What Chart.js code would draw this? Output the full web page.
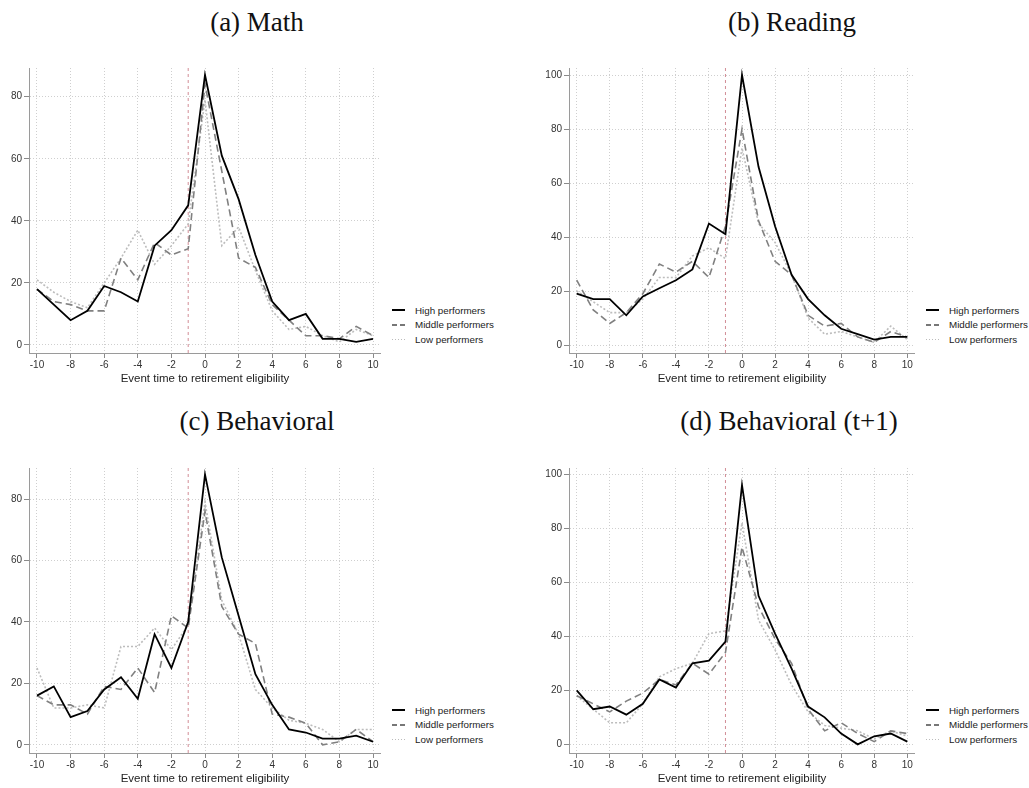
<!DOCTYPE html>
<html>
<head>
<meta charset="utf-8">
<script src="https://cdn.jsdelivr.net/npm/chart.js@4.4.0/dist/chart.umd.min.js"></script>
<style>
  body { margin: 0; background: #fff; }
  #fig { position: relative; width: 1029px; height: 788px; overflow: hidden; font-family: "Liberation Sans", Arial, sans-serif; }
  canvas { position: absolute; }
  .ptitle { position: absolute; font-family: "Liberation Serif", "DejaVu Serif", serif; font-size: 27px; color: #111; transform: translate(-50%, -50%); white-space: nowrap; }
  .legend { position: absolute; font-size: 9.8px; color: #222; white-space: nowrap; }
  .legend .row { height: 14.5px; display: flex; align-items: center; }
  .legend .sw { width: 13px; height: 2px; margin-right: 10px; flex: none; }
  .sw.high { background: #000; }
  .sw.middle { background: repeating-linear-gradient(to right, #777 0 5px, transparent 5px 8px); }
  .sw.low { height: 1.5px; background: repeating-linear-gradient(to right, #bbb 0 1px, transparent 1px 3px); }
</style>
</head>
<body>
<div id="fig">
  <div class="ptitle" style="left:257px; top:22px;">(a) Math</div>
  <div class="ptitle" style="left:792px; top:22px;">(b) Reading</div>
  <div class="ptitle" style="left:257px; top:421px;">(c) Behavioral</div>
  <div class="ptitle" style="left:789px; top:421px;">(d) Behavioral (t+1)</div>

  <canvas id="chartA" width="381" height="328" style="left:0px; top:58px;"></canvas>
  <canvas id="chartB" width="380" height="328" style="left:535px; top:58px;"></canvas>
  <canvas id="chartC" width="381" height="328" style="left:0px; top:458px;"></canvas>
  <canvas id="chartD" width="380" height="328" style="left:535px; top:458px;"></canvas>

  <div class="legend" style="left:392px; top:303px;" id="legA"></div>
  <div class="legend" style="left:926px; top:303px;" id="legB"></div>
  <div class="legend" style="left:392px; top:703px;" id="legC"></div>
  <div class="legend" style="left:926px; top:703px;" id="legD"></div>
</div>

<script>
// event time axis and ticks
const eventTime = [-10, -9, -8, -7, -6, -5, -4, -3, -2, -1, 0, 1, 2, 3, 4, 5, 6, 7, 8, 9, 10];
const xTicks = [-10, -8, -6, -4, -2, 0, 2, 4, 6, 8, 10];
const yTicks80 = [0, 20, 40, 60, 80];
const yTicks100 = [0, 20, 40, 60, 80, 100];
const eligibilityLine = -1;
const seriesNames = ["High performers", "Middle performers", "Low performers"];
const xTitle = "Event time to retirement eligibility";

// (a) Math
const mathHigh   = [18, 13, 8, 11, 19, 17, 14, 32, 37, 45, 87, 61, 47, 29, 14, 8, 10, 2, 2, 1, 2];
const mathMiddle = [18, 14, 13, 11, 11, 28, 21, 33, 29, 31, 84, 56, 28, 25, 13, 8, 3, 3, 2, 6, 3];
const mathLow    = [21, 17, 14, 12, 20, 28, 37, 26, 32, 39, 79, 32, 38, 24, 11, 5, 6, 3, 1, 5, 3];

// (b) Reading
const readHigh   = [19, 17, 17, 11, 18, 21, 24, 28, 45, 41, 100, 66, 44, 26, 17, 11, 6, 4, 2, 3, 3];
const readMiddle = [24, 13, 8, 12, 19, 30, 27, 31, 25, 44, 80, 46, 31, 26, 11, 7, 8, 3, 1, 5, 3];
const readLow    = [20, 16, 12, 12, 17, 25, 25, 33, 36, 32, 73, 45, 38, 26, 10, 4, 5, 3, 1, 7, 2];

// (c) Behavioral
const behHigh   = [16, 19, 9, 11, 18, 22, 15, 36, 25, 40, 88, 61, 42, 23, 13, 5, 4, 2, 2, 3, 1];
const behMiddle = [16, 13, 13, 10, 19, 18, 25, 17, 42, 38, 76, 45, 36, 33, 10, 9, 7, 0, 1, 5, 1];
const behLow    = [25, 12, 12, 13, 12, 32, 32, 38, 31, 39, 79, 47, 36, 18, 12, 8, 7, 5, 1, 5, 5];

// (d) Behavioral (t+1)
const behNextHigh   = [20, 13, 14, 11, 15, 24, 21, 30, 31, 38, 96, 55, 41, 28, 14, 10, 4, 0, 3, 4, 1];
const behNextMiddle = [18, 15, 12, 16, 19, 24, 22, 30, 26, 34, 73, 51, 39, 30, 13, 5, 8, 4, 1, 5, 4];
const behNextLow    = [18, 13, 8, 8, 15, 25, 28, 30, 41, 42, 82, 46, 35, 22, 12, 7, 6, 5, 2, 5, 3];

function toPoints(values) {
  return eventTime.map((t, i) => ({ x: t, y: values[i] }));
}

function makePanel(id, high, middle, low, yTicks, xRange, yRange, yAxisWidth) {
  new Chart(document.getElementById(id), {
    type: "line",
    data: {
      datasets: [
        { label: seriesNames[0], data: toPoints(high), borderColor: "#000", borderWidth: 1.8 },
        { label: seriesNames[1], data: toPoints(middle), borderColor: "#808080", borderWidth: 1.6, borderDash: [7, 4] },
        { label: seriesNames[2], data: toPoints(low), borderColor: "#bdbdbd", borderWidth: 1.6, borderDash: [2, 2] },
        { label: "eligibility", data: [{ x: eligibilityLine, y: yRange[0] }, { x: eligibilityLine, y: yRange[1] }],
          borderColor: "rgba(205,130,140,0.9)", borderWidth: 1, borderDash: [3, 3] }
      ]
    },
    options: {
      responsive: false,
      animation: false,
      devicePixelRatio: 1,
      layout: { padding: { top: 10, left: 0, right: 0, bottom: 0 } },
      elements: { point: { radius: 0 }, line: { tension: 0, fill: false } },
      plugins: { legend: { display: false }, tooltip: { enabled: false } },
      scales: {
        x: {
          type: "linear",
          min: xRange[0],
          max: xRange[1],
          afterBuildTicks: s => { s.ticks = xTicks.map(v => ({ value: v })); },
          afterFit: s => { s.height = 33; },
          grid: { color: "#cfcfcf", lineWidth: 1, tickLength: 5, tickColor: "#8a8a8a", tickBorderDash: [] },
          border: { display: true, color: "#9a9a9a", width: 1, dash: [1, 2] },
          ticks: { color: "#333", font: { family: "Liberation Sans", size: 10 }, padding: 1, maxRotation: 0, autoSkip: false },
          title: { display: true, text: xTitle, color: "#222", font: { family: "Liberation Sans", size: 11.5 }, padding: 0 }
        },
        y: {
          type: "linear",
          min: yRange[0],
          max: yRange[1],
          afterBuildTicks: s => { s.ticks = yTicks.map(v => ({ value: v })); },
          afterFit: s => { s.width = yAxisWidth; },
          grid: { color: "#cfcfcf", lineWidth: 1, tickLength: 5, tickColor: "#8a8a8a", tickBorderDash: [] },
          border: { display: true, color: "#9a9a9a", width: 1, dash: [1, 2] },
          ticks: { color: "#333", font: { family: "Liberation Sans", size: 10 }, padding: 2 }
        }
      }
    }
  });
}

function makeLegend(id) {
  const cls = ["high", "middle", "low"];
  document.getElementById(id).innerHTML = seriesNames
    .map((name, i) => '<div class="row"><span class="sw ' + cls[i] + '"></span>' + name + "</div>")
    .join("");
}

makePanel("chartA", mathHigh, mathMiddle, mathLow, yTicks80, [-10.476, 10.476], [-2.58, 89.25], 29);
makePanel("chartB", readHigh, readMiddle, readLow, yTicks100, [-10.466, 10.466], [-2.96, 102.6], 34);
makePanel("chartC", behHigh, behMiddle, behLow, yTicks80, [-10.476, 10.476], [-2.67, 90.09], 29);
makePanel("chartD", behNextHigh, behNextMiddle, behNextLow, yTicks100, [-10.466, 10.466], [-3.2, 102.3], 34);

["legA", "legB", "legC", "legD"].forEach(makeLegend);
</script>
</body>
</html>
